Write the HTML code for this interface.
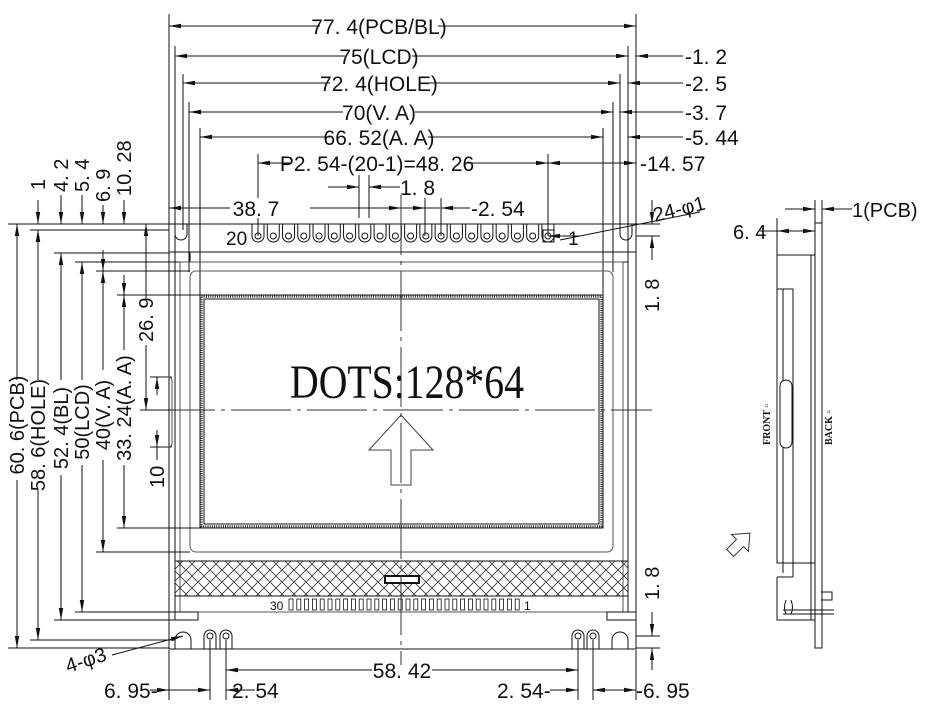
<!DOCTYPE html>
<html><head><meta charset="utf-8"><style>
html,body{margin:0;padding:0;background:#fff}
svg{display:block}
text{font-family:"Liberation Sans Narrow","Liberation Sans",sans-serif;fill:#111}
</style></head><body>
<svg id="s" width="947" height="717" viewBox="0 0 947 717" xmlns="http://www.w3.org/2000/svg" stroke="#111" stroke-width="1" fill="none">
<defs>
<marker id="a" viewBox="0 0 12 6" refX="12" refY="3" markerWidth="12" markerHeight="6" orient="auto-start-reverse" markerUnits="userSpaceOnUse"><path d="M0,0.8 L12,3 L0,5.2z" fill="#111" stroke="none"/></marker>
<pattern id="h" width="12" height="12" patternUnits="userSpaceOnUse"><path d="M0,0L12,12M12,0L0,12" stroke="#333" stroke-width="0.8"/></pattern>
</defs>

<g font-size="21">
<line x1="169" y1="14" x2="169" y2="225"/><line x1="636" y1="14" x2="636" y2="225"/>
<line x1="175" y1="46" x2="175" y2="262"/><line x1="628" y1="46" x2="628" y2="262"/>
<line x1="183" y1="74" x2="183" y2="230"/><line x1="620" y1="74" x2="620" y2="230"/>
<line x1="189" y1="102" x2="189" y2="272"/><line x1="613" y1="102" x2="613" y2="272"/>
<line x1="200" y1="128" x2="200" y2="296"/><line x1="603" y1="128" x2="603" y2="296"/>
<line x1="258" y1="154" x2="258" y2="236"/><line x1="548" y1="154" x2="548" y2="236"/>

<line x1="169" y1="26" x2="320" y2="26" marker-start="url(#a)"/><line x1="438" y1="26" x2="636" y2="26" marker-end="url(#a)"/>
<text x="379" y="34" text-anchor="middle" stroke="none">77. 4(PCB/BL)</text>
<line x1="175" y1="56" x2="345" y2="56" marker-start="url(#a)"/><line x1="412" y1="56" x2="628" y2="56" marker-end="url(#a)"/>
<text x="379" y="64" text-anchor="middle" stroke="none">75(LCD)</text>
<line x1="683" y1="56" x2="636" y2="56" marker-end="url(#a)"/><text x="685" y="64" stroke="none">-1. 2</text>
<line x1="183" y1="83" x2="330" y2="83" marker-start="url(#a)"/><line x1="427" y1="83" x2="620" y2="83" marker-end="url(#a)"/>
<text x="379" y="91" text-anchor="middle" stroke="none">72. 4(HOLE)</text>
<line x1="683" y1="83" x2="628" y2="83" marker-end="url(#a)"/><text x="685" y="91" stroke="none">-2. 5</text>
<line x1="189" y1="112" x2="343" y2="112" marker-start="url(#a)"/><line x1="415" y1="112" x2="613" y2="112" marker-end="url(#a)"/>
<text x="379" y="120" text-anchor="middle" stroke="none">70(V. A)</text>
<line x1="683" y1="112" x2="620" y2="112" marker-end="url(#a)"/><text x="685" y="120" stroke="none">-3. 7</text>
<line x1="200" y1="137" x2="330" y2="137" marker-start="url(#a)"/><line x1="428" y1="137" x2="603" y2="137" marker-end="url(#a)"/>
<text x="379" y="145" text-anchor="middle" stroke="none">66. 52(A. A)</text>
<line x1="683" y1="137" x2="628" y2="137" marker-end="url(#a)"/><text x="685" y="145" stroke="none">-5. 44</text>
<line x1="258" y1="163" x2="290" y2="163" marker-start="url(#a)"/><line x1="465" y1="163" x2="548" y2="163" marker-end="url(#a)"/>
<text x="377" y="171" text-anchor="middle" stroke="none">P2. 54-(20-1)=48. 26</text>
<line x1="548" y1="163" x2="636" y2="163" marker-start="url(#a)" marker-end="url(#a)"/>
<text x="640" y="171" stroke="none">-14. 57</text>

<line x1="359" y1="175" x2="359" y2="218"/><line x1="369" y1="175" x2="369" y2="218"/>
<line x1="328" y1="187" x2="359" y2="187" marker-end="url(#a)"/><line x1="400" y1="187" x2="369" y2="187" marker-end="url(#a)"/>
<text x="400" y="195" stroke="none">1. 8</text>
<line x1="169" y1="208" x2="258" y2="208" marker-start="url(#a)"/><line x1="225" y1="208" x2="258" y2="208"/>
<rect x="230" y="198" width="52" height="20" fill="#fff" stroke="none"/>
<text x="256" y="216" text-anchor="middle" stroke="none">38. 7</text>
<line x1="310" y1="208" x2="401" y2="208" marker-end="url(#a)"/>
<line x1="401" y1="208" x2="425" y2="208" marker-end="url(#a)"/>
<line x1="440" y1="208" x2="425" y2="208"/>
<line x1="425" y1="198" x2="425" y2="236"/><line x1="441" y1="198" x2="441" y2="236"/>
<line x1="470" y1="208" x2="441" y2="208" marker-end="url(#a)"/>
<text x="471" y="216" stroke="none">-2. 54</text>
</g>

<rect x="169" y="224" width="467" height="425"/>
<line x1="169" y1="252" x2="636" y2="252"/>
<path d="M175,224 V234 A6,6 0 0 0 187,234 V224"/>
<path d="M620,224 V234 A6,6 0 0 0 632,234 V224"/>
<path d="M175,282 V262 H190 V252 H613 V262 H628 V282" />
<path d="M175,262 V612 H628 V262"/>
<line x1="175" y1="612" x2="175" y2="620"/>
<rect x="180" y="262" width="443" height="350" stroke="#555"/>
<rect x="190" y="271" width="423" height="281" rx="6" stroke="#555"/>
<rect x="200" y="295" width="403" height="233"/>
<rect x="204" y="299" width="395" height="225"/>
<rect x="201.5" y="296.5" width="400" height="230" stroke="#222" stroke-width="2.5" stroke-dasharray="1,1.2"/>
<rect x="175" y="561" width="453" height="35" fill="url(#h)"/>
<line x1="175" y1="596" x2="628" y2="596"/>
<rect x="385" y="576" width="34" height="7" stroke-width="2" fill="#fff"/>
<g id="fpc"></g>
<text x="270" y="610" font-size="12" stroke="none">30</text>
<text x="524" y="610" font-size="12" stroke="none">1</text>
<path d="M169,612 H198 V620 H169"/><path d="M636,612 H607 V620 H636"/>
<path d="M175,649 V640 A8,8 0 0 1 191,640 V649"/>
<path d="M612,649 V640 A8,8 0 0 1 628,640 V649"/>
<g id="bp"></g>
<g id="tp"></g>
<text x="226" y="245" font-size="19" stroke="none">20</text>
<text x="568" y="245" font-size="19" stroke="none">1</text>
<rect x="543" y="230" width="11" height="12"/>

<line x1="401" y1="195" x2="401" y2="665" stroke-dasharray="60,6,4,6" stroke="#333"/>
<line x1="155" y1="410" x2="652" y2="410" stroke-dasharray="60,6,4,6" stroke="#333"/>

<text x="290" y="398" font-size="48" textLength="234" lengthAdjust="spacingAndGlyphs" stroke="none" style="font-family:'Liberation Serif',serif">DOTS:128*64</text>
<path d="M401,415 L369,450 H391 V485 H411 V450 H433 Z" stroke="#444"/>

<g font-size="20">
<line x1="8" y1="224" x2="169" y2="224"/><line x1="8" y1="648" x2="169" y2="648"/>
<line x1="30" y1="230" x2="169" y2="230"/><line x1="30" y1="640" x2="175" y2="640"/>
<line x1="54" y1="253" x2="169" y2="253"/><line x1="54" y1="620" x2="169" y2="620"/>
<line x1="75" y1="262" x2="175" y2="262"/><line x1="75" y1="612" x2="175" y2="612"/>
<line x1="96" y1="271" x2="190" y2="271"/><line x1="96" y1="552" x2="190" y2="552"/>
<line x1="117" y1="295" x2="200" y2="295"/><line x1="117" y1="528" x2="200" y2="528"/>
<line x1="140" y1="410" x2="175" y2="410"/>
<line x1="150" y1="377" x2="172" y2="377"/><line x1="150" y1="447" x2="172" y2="447"/>
<path d="M168,377 Q172,377 172,381 V443 Q172,447 168,447" stroke="#555"/>

<line x1="17" y1="380" x2="17" y2="224" marker-end="url(#a)"/><line x1="17" y1="480" x2="17" y2="648" marker-end="url(#a)"/>
<text transform="translate(24,425) rotate(-90)" text-anchor="middle" stroke="none">60. 6(PCB)</text>
<line x1="38" y1="380" x2="38" y2="230" marker-end="url(#a)"/><line x1="38" y1="490" x2="38" y2="640" marker-end="url(#a)"/>
<text transform="translate(45,435) rotate(-90)" text-anchor="middle" stroke="none">58. 6(HOLE)</text>
<line x1="61" y1="380" x2="61" y2="253" marker-end="url(#a)"/><line x1="61" y1="475" x2="61" y2="620" marker-end="url(#a)"/>
<text transform="translate(68,428) rotate(-90)" text-anchor="middle" stroke="none">52. 4(BL)</text>
<line x1="82" y1="380" x2="82" y2="262" marker-end="url(#a)"/><line x1="82" y1="465" x2="82" y2="612" marker-end="url(#a)"/>
<text transform="translate(89,422) rotate(-90)" text-anchor="middle" stroke="none">50(LCD)</text>
<line x1="103" y1="370" x2="103" y2="271" marker-end="url(#a)"/><line x1="103" y1="460" x2="103" y2="552" marker-end="url(#a)"/>
<text transform="translate(110,415) rotate(-90)" text-anchor="middle" stroke="none">40(V. A)</text>
<line x1="124" y1="350" x2="124" y2="295" marker-end="url(#a)"/><line x1="124" y1="465" x2="124" y2="528" marker-end="url(#a)"/>
<text transform="translate(131,408) rotate(-90)" text-anchor="middle" stroke="none">33. 24(A. A)</text>
<line x1="38" y1="200" x2="38" y2="224" marker-end="url(#a)"/><line x1="38" y1="255" x2="38" y2="230" marker-end="url(#a)"/>
<text transform="translate(45,190) rotate(-90)" stroke="none">1</text>
<line x1="61" y1="195" x2="61" y2="224" marker-end="url(#a)"/>
<text transform="translate(68,192) rotate(-90)" stroke="none">4. 2</text>
<line x1="82" y1="195" x2="82" y2="224" marker-end="url(#a)"/>
<text transform="translate(89,192) rotate(-90)" stroke="none">5. 4</text>
<line x1="103" y1="205" x2="103" y2="224" marker-end="url(#a)"/>
<line x1="103" y1="250" x2="103" y2="271" marker-end="url(#a)"/>
<text transform="translate(110,202) rotate(-90)" stroke="none">6. 9</text>
<line x1="124" y1="200" x2="124" y2="224" marker-end="url(#a)"/>
<line x1="124" y1="275" x2="124" y2="295" marker-end="url(#a)"/>
<text transform="translate(131,196) rotate(-90)" stroke="none">10. 28</text>
<line x1="146" y1="300" x2="146" y2="224" marker-end="url(#a)"/><line x1="146" y1="345" x2="146" y2="410" marker-end="url(#a)"/>
<text transform="translate(153,342) rotate(-90)" stroke="none">26. 9</text>
<line x1="157" y1="395" x2="157" y2="377" marker-end="url(#a)"/><line x1="157" y1="430" x2="157" y2="447" marker-end="url(#a)"/>
<line x1="157" y1="447" x2="157" y2="460"/>
<text transform="translate(164,488) rotate(-90)" stroke="none">10</text>
</g>

<g font-size="20">
<line x1="636" y1="224" x2="660" y2="224"/><line x1="636" y1="236" x2="660" y2="236"/>
<line x1="652" y1="200" x2="652" y2="224" marker-end="url(#a)"/><line x1="652" y1="260" x2="652" y2="236" marker-end="url(#a)"/>
<text transform="translate(659,312) rotate(-90)" stroke="none">1. 8</text>
<line x1="636" y1="636" x2="660" y2="636"/><line x1="636" y1="648" x2="660" y2="648"/>
<line x1="652" y1="612" x2="652" y2="636" marker-end="url(#a)"/><line x1="652" y1="670" x2="652" y2="648" marker-end="url(#a)"/>
<text transform="translate(659,600) rotate(-90)" stroke="none">1. 8</text>
<line x1="560" y1="240" x2="700" y2="212"/>
<line x1="580" y1="236" x2="548" y2="236" marker-end="url(#a)"/>
<text transform="translate(655,222) rotate(-14)" stroke="none">24-φ1</text>
<line x1="112" y1="655" x2="183" y2="636" marker-end="url(#a)"/>
<text transform="translate(68,673) rotate(-18)" stroke="none">4-φ3</text>
</g>

<g font-size="21">
<line x1="169" y1="650" x2="169" y2="700"/><line x1="636" y1="650" x2="636" y2="700"/>
<line x1="210" y1="640" x2="210" y2="700"/><line x1="226" y1="640" x2="226" y2="700"/>
<line x1="578" y1="640" x2="578" y2="700"/><line x1="593" y1="640" x2="593" y2="700"/>
<line x1="226" y1="670" x2="372" y2="670" marker-start="url(#a)"/><line x1="432" y1="670" x2="578" y2="670" marker-end="url(#a)"/>
<text x="402" y="678" text-anchor="middle" stroke="none">58. 42</text>
<line x1="169" y1="690" x2="150" y2="690" marker-start="url(#a)"/>
<line x1="169" y1="690" x2="210" y2="690" marker-end="url(#a)"/>
<line x1="255" y1="690" x2="226" y2="690" marker-end="url(#a)"/>
<text x="104" y="698" stroke="none">6. 95-</text>
<text x="232" y="698" stroke="none">2. 54</text>
<line x1="550" y1="690" x2="578" y2="690" marker-end="url(#a)"/>
<text x="497" y="698" stroke="none">2. 54-</text>
<line x1="593" y1="690" x2="636" y2="690" marker-start="url(#a)" marker-end="url(#a)"/>
<text x="636" y="698" stroke="none">-6. 95</text>
</g>

<g font-size="20">
<rect x="815" y="223" width="7" height="425"/>
<rect x="777" y="255" width="38" height="308"/>
<rect x="777" y="289" width="16" height="274"/>
<line x1="783" y1="289" x2="783" y2="563"/>
<line x1="811" y1="255" x2="811" y2="620"/>
<rect x="780" y="380" width="12" height="68" rx="6" fill="#fff"/>
<path d="M783,563 V573 M793,563 V577 M777,577 V620 H815 M777,577 H793 M783,610 H834 M783,614 H834 M821,592 H832 V600 H821"/>
<path d="M786,600 q-3,8 0,14 M791,600 q3,8 0,14"/>
<text transform="translate(770,445) rotate(-90)" font-size="10" font-weight="bold" stroke="none" style="font-family:'Liberation Serif',serif">FRONT ▫</text>
<text transform="translate(832,445) rotate(-90)" font-size="10" font-weight="bold" stroke="none" style="font-family:'Liberation Serif',serif">BACK ▫</text>
<path d="M0,-14 L-12,0 H-5 V14 H5 V0 H12 Z" transform="translate(740,543) rotate(45)" stroke="#333"/>
<line x1="777" y1="218" x2="777" y2="255"/><line x1="815" y1="200" x2="815" y2="223"/><line x1="822" y1="200" x2="822" y2="223"/>
<line x1="760" y1="231" x2="777" y2="231"/>
<line x1="796" y1="231" x2="777" y2="231" marker-end="url(#a)"/><line x1="796" y1="231" x2="815" y2="231" marker-end="url(#a)"/>
<text x="733" y="239" stroke="none">6. 4</text>
<line x1="785" y1="209" x2="815" y2="209" marker-end="url(#a)"/><line x1="852" y1="209" x2="822" y2="209" marker-end="url(#a)"/>
<text x="852" y="217" stroke="none">1(PCB)</text>
</g>
</svg>
<script>
var NS="http://www.w3.org/2000/svg";
function el(p,t,a){var e=document.createElementNS(NS,t);for(var k in a)e.setAttribute(k,a[k]);p.appendChild(e);return e;}
var tp=document.getElementById("tp");
for(var i=0;i<20;i++){var x=258+i*15.26;
 el(tp,"path",{d:"M"+(x-6)+",224 V236 A6,6 0 0 0 "+(x+6)+",236 V224"});
 el(tp,"circle",{cx:x,cy:236,r:3});}
var f=document.getElementById("fpc");
for(var i=0;i<30;i++){var x=289+i*7.8;el(f,"rect",{x:x,y:599,width:4,height:11,"stroke-width":"0.8"});}
var bp=document.getElementById("bp");
[210,226,578,593].forEach(function(x){el(bp,"path",{d:"M"+(x-6)+",649 V636 A6,6 0 0 1 "+(x+6)+",636 V649"});el(bp,"circle",{cx:x,cy:636,r:3});});
</script>
</body></html>
